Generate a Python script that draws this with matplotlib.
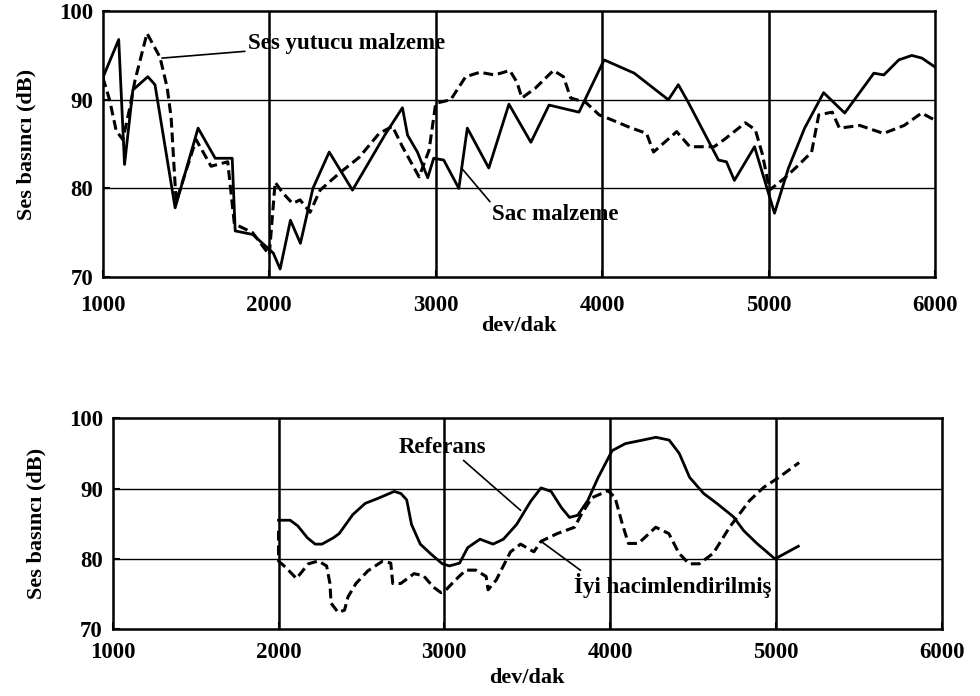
import matplotlib
matplotlib.use("Agg")
import matplotlib.pyplot as plt

plt.rcParams['font.family'] = ['Liberation Serif', 'DejaVu Serif']

# --- Üst grafik: sac malzeme / ses yutucu malzeme ---
sac_x = [1000, 1095, 1130, 1180, 1270, 1313, 1434, 1572, 1675, 1777, 1795, 1900,
         2024, 2065, 2127, 2187, 2262, 2360, 2500, 2600, 2700, 2800, 2831, 2890,
         2952, 2988, 3048, 3139, 3190, 3319, 3440, 3572, 3681, 3861, 4012, 4193,
         4398, 4458, 4518, 4699, 4747, 4795, 4916, 5036, 5120, 5217, 5331, 5458,
         5633, 5693, 5783, 5861, 5922, 6000]
sac_y = [92.5, 96.8, 82.7, 91.1, 92.6, 91.7, 77.8, 86.8, 83.4, 83.4, 75.2, 74.8,
         72.7, 70.9, 76.4, 73.8, 80.0, 84.1, 79.8, 83.0, 86.2, 89.1, 86.0, 84.1,
         81.2, 83.4, 83.2, 80.0, 86.8, 82.3, 89.5, 85.2, 89.4, 88.6, 94.5, 93.0,
         90.0, 91.7, 89.7, 83.2, 83.0, 80.9, 84.7, 77.2, 82.3, 86.8, 90.8, 88.5,
         93.0, 92.8, 94.5, 95.0, 94.7, 93.7]

yutucu_x = [1000, 1040, 1080, 1120, 1163, 1193, 1265, 1343, 1386, 1410, 1440, 1560,
            1650, 1750, 1790, 1900, 2000, 2035, 2080, 2140, 2185, 2245, 2305, 2420,
            2540, 2660, 2740, 2800, 2900, 2960, 3000, 3090, 3180, 3265, 3354, 3445,
            3488, 3518, 3598, 3707, 3768, 3811, 3902, 3982, 4036, 4164, 4267, 4309,
            4448, 4527, 4673, 4733, 4861, 4921, 4964, 5006, 5099, 5179, 5259, 5302,
            5383, 5426, 5549, 5691, 5815, 5920, 6000]
yutucu_y = [92.5, 90.0, 86.5, 85.5, 89.2, 92.2, 97.5, 94.8, 91.4, 88.0, 78.5, 85.5,
            82.5, 83.0, 76.0, 75.0, 72.5, 80.7, 79.5, 78.3, 78.7, 77.3, 79.8, 81.7,
            83.5, 86.2, 87.0, 84.7, 81.3, 84.3, 89.6, 90.0, 92.6, 93.1, 92.8, 93.3,
            92.0, 90.2, 91.3, 93.3, 92.6, 90.2, 89.7, 88.3, 87.9, 86.9, 86.2, 84.1,
            86.4, 84.7, 84.7, 85.5, 87.4, 86.6, 83.8, 79.8, 81.2, 82.6, 84.1, 88.3,
            88.6, 86.8, 87.1, 86.2, 87.1, 88.5, 87.7]

# --- Alt grafik: referans / iyi hacimlendirilmiş ---
ref_x = [2000, 2070, 2116, 2174, 2221, 2262, 2331, 2366, 2448, 2523, 2599, 2698,
         2738, 2773, 2802, 2855, 2919, 2988, 3031, 3092, 3141, 3215, 3294, 3356,
         3436, 3521, 3583, 3644, 3706, 3755, 3804, 3865, 3926, 4012, 4092, 4196,
         4276, 4356, 4417, 4479, 4564, 4643, 4743, 4806, 4885, 4994, 5135]
ref_y = [85.5, 85.5, 84.7, 83.0, 82.1, 82.1, 83.0, 83.6, 86.3, 87.9, 88.6, 89.6,
         89.3, 88.4, 84.9, 82.1, 80.7, 79.3, 79.0, 79.4, 81.6, 82.8, 82.1, 82.8,
         84.9, 88.2, 90.1, 89.6, 87.3, 85.9, 86.2, 88.3, 91.5, 95.4, 96.4, 96.9,
         97.3, 96.9, 95.0, 91.6, 89.3, 87.9, 86.0, 84.0, 82.2, 80.0, 81.8]

iyi_x = [2000, 2000, 2048, 2108, 2180, 2240, 2290, 2310, 2317, 2359, 2398, 2419,
         2467, 2539, 2629, 2677, 2689, 2737, 2817, 2875, 2933, 2980, 3006, 3067,
         3129, 3190, 3252, 3264, 3313, 3356, 3399, 3460, 3540, 3583, 3681, 3785,
         3828, 3890, 3988, 4030, 4073, 4110, 4171, 4275, 4354, 4415, 4476, 4537,
         4622, 4720, 4841, 4927, 5006, 5140]
iyi_y = [84.0, 79.7, 78.7, 77.2, 79.3, 79.7, 79.0, 76.5, 73.7, 72.4, 72.7, 74.6,
         76.5, 78.3, 79.7, 79.4, 76.5, 76.5, 77.9, 77.6, 76.0, 75.2, 75.5, 77.0,
         78.4, 78.4, 77.5, 75.6, 77.0, 79.0, 81.0, 82.1, 81.0, 82.5, 83.6, 84.5,
         86.4, 88.7, 89.7, 88.7, 85.0, 82.2, 82.2, 84.5, 83.6, 80.8, 79.3, 79.3,
         80.8, 84.5, 88.3, 90.2, 91.4, 93.7]

x_ticks = [1000, 2000, 3000, 4000, 5000, 6000]
y_ticks = [70, 80, 90, 100]

fig = plt.figure(figsize=(9.8, 6.96), dpi=100)
ax1 = fig.add_axes([0.105, 0.602, 0.849, 0.382])
ax2 = fig.add_axes([0.115, 0.096, 0.846, 0.303])

dash = (0, (3.2, 1.6))


def style(ax, xpad, xlabelpad):
    ax.set_xlim(1000, 6000)
    ax.set_ylim(70, 100)
    ax.set_xticks(x_ticks)
    ax.set_yticks(y_ticks)
    for v in [80, 90]:
        ax.axhline(v, color='black', lw=1.0, zorder=1)
    for v in [2000, 3000, 4000, 5000]:
        ax.axvline(v, color='black', lw=1.8, zorder=1)
    for s in ax.spines.values():
        s.set_linewidth(1.8)
    ax.tick_params(direction='in', length=5, width=1.5, labelsize=16.5)
    ax.tick_params(axis='x', pad=xpad)
    ax.tick_params(axis='y', pad=7)
    for lab in ax.get_xticklabels() + ax.get_yticklabels():
        lab.set_fontweight('bold')
    ax.set_xlabel('dev/dak', fontsize=16, fontweight='bold', labelpad=xlabelpad)
    ax.set_ylabel('Ses basıncı (dB)', fontsize=16, fontweight='bold', labelpad=16)


style(ax1, 13, 0)
ax1.plot(sac_x, sac_y, color='black', lw=2.0, zorder=3)
ax1.plot(yutucu_x, yutucu_y, color='black', lw=2.2, linestyle=dash, zorder=3)
ax1.annotate('Ses yutucu malzeme', xy=(1355, 94.7), xytext=(1870, 96.4),
             fontsize=16.5, fontweight='bold', va='center', ha='left',
             arrowprops=dict(arrowstyle='-', color='black', lw=1.2,
                             shrinkA=0, shrinkB=0))
ax1.annotate('Sac malzeme', xy=(3155, 82.3), xytext=(3340, 77.0),
             fontsize=16.5, fontweight='bold', va='center', ha='left',
             arrowprops=dict(arrowstyle='-', color='black', lw=1.2,
                             shrinkA=0, shrinkB=0,
                             relpos=(0.0, 1.0)))

style(ax2, 9, 4)
ax2.plot(ref_x, ref_y, color='black', lw=2.0, zorder=3)
ax2.plot(iyi_x, iyi_y, color='black', lw=2.2, linestyle=dash, zorder=3)
ax2.annotate('Referans', xy=(3460, 86.9), xytext=(2727, 95.9),
             fontsize=16.5, fontweight='bold', va='center', ha='left',
             arrowprops=dict(arrowstyle='-', color='black', lw=1.2,
                             shrinkA=0, shrinkB=0, relpos=(0.7, 0.0)))
ax2.annotate('İyi hacimlendirilmiş', xy=(3583, 82.5), xytext=(3785, 76.2),
             fontsize=16.5, fontweight='bold', va='center', ha='left',
             arrowprops=dict(arrowstyle='-', color='black', lw=1.2,
                             shrinkA=0, shrinkB=0, relpos=(0.05, 1.0)))

fig.savefig('out.png', dpi=100, facecolor='white')
